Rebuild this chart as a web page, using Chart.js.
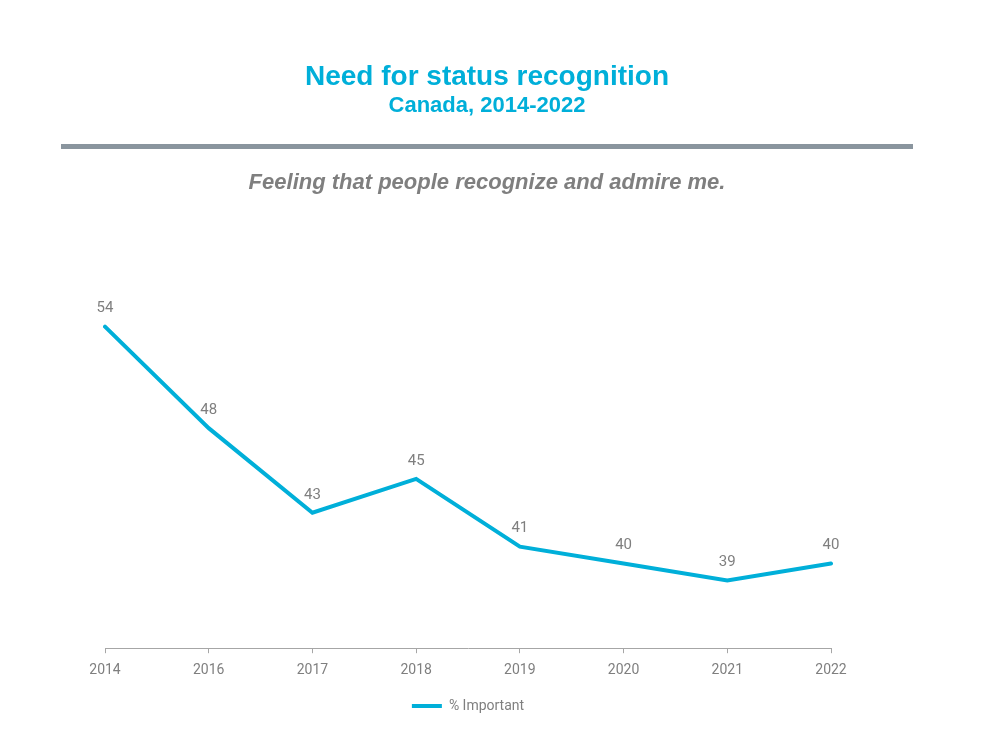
<!DOCTYPE html>
<html>
<head>
<meta charset="utf-8">
<script src="https://cdn.jsdelivr.net/npm/chart.js@4"></script>
<style>
  body { margin: 0; background: #fff; }
  #wrap { width: 1000px; height: 750px; }
</style>
</head>
<body>
<div id="wrap"><canvas id="myChart"></canvas></div>
<script>
// data
const years = ["2014", "2016", "2017", "2018", "2019", "2020", "2021", "2022"];
const importantPct = [54, 48, 43, 45, 41, 40, 39, 40];
const seriesName = "% Important";

const cyan = "#00afd9";
const grey = "#7f7f7f";
const narrow = "Roboto, 'Liberation Sans Narrow', sans-serif";

// header: titles, grey bar, italic question text
const headerPlugin = {
  id: "header",
  beforeDraw(chart) {
    const c = chart.ctx;
    c.save();
    c.textAlign = "center";
    c.textBaseline = "middle";
    c.fillStyle = cyan;
    c.font = "bold 28px 'Liberation Sans', Arial, sans-serif";
    c.fillText("Need for status recognition", 487, 77);
    c.font = "bold 22px 'Liberation Sans', Arial, sans-serif";
    c.fillText("Canada, 2014-2022", 487, 106);
    c.fillStyle = "#8a959e";
    c.fillRect(61, 144, 852, 5);
    c.fillStyle = grey;
    c.font = "italic bold 22px 'Liberation Sans', Arial, sans-serif";
    c.fillText("Feeling that people recognize and admire me.", 487, 183);
    c.restore();
  }
};

// value labels above points
const labelPlugin = {
  id: "valueLabels",
  afterDatasetsDraw(chart) {
    const c = chart.ctx;
    const meta = chart.getDatasetMeta(0);
    c.save();
    c.textAlign = "center";
    c.textBaseline = "middle";
    c.fillStyle = grey;
    c.font = "15px " + narrow;
    meta.data.forEach((pt, i) => {
      c.fillText(importantPct[i], pt.x, pt.y - 18);
    });
    c.restore();
  }
};

const ctx = document.getElementById("myChart");
new Chart(ctx, {
  type: "line",
  data: {
    labels: years,
    datasets: [
      {
        label: seriesName,
        data: importantPct,
        borderColor: cyan,
        backgroundColor: cyan,
        borderWidth: 4,
        borderCapStyle: "round",
        pointRadius: 0,
        tension: 0,
      },
    ],
  },
  options: {
    responsive: true,
    maintainAspectRatio: false,
    animation: false,
    layout: {
      padding: { top: 225, left: 105, right: 169, bottom: 27 },
    },
    plugins: {
      legend: {
        position: "bottom",
        labels: {
          usePointStyle: true,
          pointStyle: "line",
          pointStyleWidth: 30,
          color: grey,
          font: { family: narrow, size: 14 },
          padding: 11,
        },
      },
      tooltip: { enabled: false },
    },
    scales: {
      x: {
        offset: false,
        grid: {
          drawOnChartArea: false,
          drawTicks: true,
          tickLength: 5,
          color: "#a6a6a6",
        },
        border: { color: "#a6a6a6", width: 1 },
        ticks: {
          color: grey,
          font: { family: narrow, size: 14 },
          padding: 9,
          maxRotation: 0,
        },
      },
      y: {
        display: false,
        min: 35,
        max: 60,
      },
    },
  },
  plugins: [headerPlugin, labelPlugin],
});
</script>
</body>
</html>
